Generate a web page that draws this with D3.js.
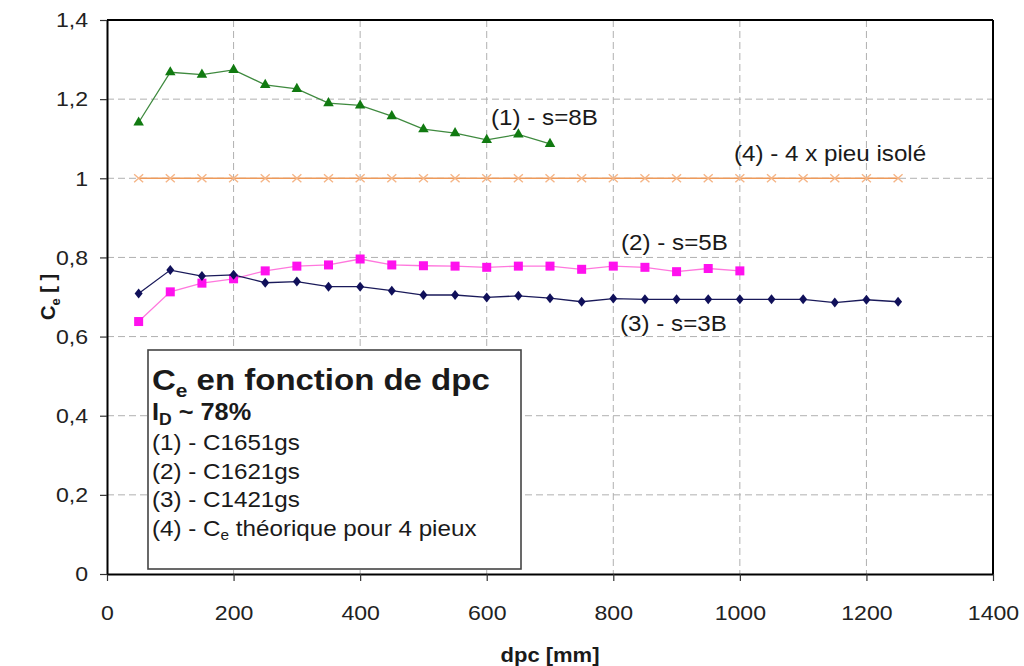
<!DOCTYPE html>
<html><head><meta charset="utf-8">
<script src="https://cdn.jsdelivr.net/npm/d3@7"></script>
<style>body{margin:0;background:#fff;}svg{font-family:"Liberation Sans",Arial,sans-serif;}</style>
</head><body><svg id="c" width="1024" height="666"></svg>
<script>
const xTicks = [0,200,400,600,800,1000,1200,1400];
const yTicks = [0,0.2,0.4,0.6,0.8,1,1.2,1.4];
const dpc1 = [50,100,150,200,250,300,350,400,450,500,550,600,650,700];
const ce1 = [1.141,1.268,1.262,1.274,1.236,1.226,1.19,1.184,1.157,1.124,1.114,1.097,1.111,1.087];
const dpc2 = [50,100,150,200,250,300,350,400,450,500,550,600,650,700,750,800,850,900,950,1000];
const ce2 = [0.638,0.713,0.735,0.746,0.766,0.778,0.781,0.796,0.781,0.779,0.778,0.775,0.778,0.778,0.770,0.778,0.775,0.764,0.772,0.766];
const dpc3 = [50,100,150,200,250,300,350,400,450,500,550,600,650,700,750,800,850,900,950,1000,1050,1100,1150,1200,1250];
const ce3 = [0.709,0.768,0.753,0.756,0.736,0.739,0.726,0.726,0.716,0.705,0.705,0.699,0.703,0.697,0.688,0.696,0.694,0.694,0.694,0.694,0.694,0.694,0.686,0.693,0.688];
const dpc4 = [50,100,150,200,250,300,350,400,450,500,550,600,650,700,750,800,850,900,950,1000,1050,1100,1150,1200,1250];
const ce4 = [1,1,1,1,1,1,1,1,1,1,1,1,1,1,1,1,1,1,1,1,1,1,1,1,1];
const seriesLabels = ["(1) - s=8B","(2) - s=5B","(3) - s=3B","(4) - 4 x pieu isolé"];
const legendLines = ["(1) - C1651gs","(2) - C1621gs","(3) - C1421gs"];

const SX = 1.1; // horizontal stretch of the reference's text
const svg = d3.select("#c");
const L=107, R=993, T=20, B=574;
const x = d3.scaleLinear().domain([0,1400]).range([L,R]);
const y = d3.scaleLinear().domain([0,1.4]).range([B,T]);
const fmt = d => String(d).replace(".", ",");
const txt = (px,py,size,weight) => svg.append("text")
  .attr("transform",`translate(${px},${py}) scale(${SX},1)`)
  .attr("font-size",size).attr("font-weight",weight||"normal").attr("fill","#1a1a1a");

// gridlines
svg.append("g").selectAll("line").data(yTicks.filter(d=>d>0 && d<1.4)).join("line")
  .attr("x1",L).attr("x2",R).attr("y1",d=>y(d)).attr("y2",d=>y(d))
  .attr("stroke","#b0b0b0").attr("stroke-width",1).attr("stroke-dasharray","7,4");
svg.append("g").selectAll("line").data(xTicks.filter(d=>d>0 && d<1400)).join("line")
  .attr("y1",T).attr("y2",B).attr("x1",d=>x(d)).attr("x2",d=>x(d))
  .attr("stroke","#b0b0b0").attr("stroke-width",1).attr("stroke-dasharray","7,4");

// axes
const xAxis = svg.append("g").attr("transform",`translate(0,${B})`)
  .call(d3.axisBottom(x).tickValues(xTicks).tickSize(7).tickSizeOuter(0).tickFormat(d=>d));
const yAxis = svg.append("g").attr("transform",`translate(${L},0)`)
  .call(d3.axisLeft(y).tickValues(yTicks).tickSize(7).tickSizeOuter(0).tickFormat(fmt));
[xAxis,yAxis].forEach(a=>{
  a.select(".domain").attr("stroke","#000").attr("stroke-width",2);
  a.selectAll(".tick line").attr("stroke","#333").attr("stroke-width",1.2);
  a.selectAll("text").attr("fill","#222").attr("font-size",21)
    .attr("font-family","Liberation Sans, Arial, sans-serif").attr("transform",`scale(${SX},1)`);
});
xAxis.selectAll("text").attr("y",0).attr("dy","2.2em");
yAxis.selectAll("text").attr("x",-19/SX);
// top & right border
svg.append("line").attr("x1",L).attr("x2",R).attr("y1",T).attr("y2",T).attr("stroke","#000").attr("stroke-width",2);
svg.append("line").attr("x1",R).attr("x2",R).attr("y1",T).attr("y2",B).attr("stroke","#000").attr("stroke-width",2);

const line = d3.line().x(d=>x(d[0])).y(d=>y(d[1]));
const zip = (a,b) => a.map((v,i)=>[v,b[i]]);

// series 4 orange
const s4 = zip(dpc4,ce4);
svg.append("path").datum(s4).attr("d",line).attr("fill","none").attr("stroke","#ee9a5a").attr("stroke-width",1.6);
svg.append("g").selectAll("path").data(s4).join("path")
  .attr("transform",d=>`translate(${x(d[0])},${y(d[1])})`)
  .attr("d","M-4.5,-4L4.5,4M-4.5,4L4.5,-4").attr("stroke","#f5b587").attr("stroke-width",1.4).attr("fill","none");

// series 1 green
const s1 = zip(dpc1,ce1);
svg.append("path").datum(s1).attr("d",line).attr("fill","none").attr("stroke","#3f8a3f").attr("stroke-width",1.3);
svg.append("g").selectAll("path").data(s1).join("path")
  .attr("transform",d=>`translate(${x(d[0])},${y(d[1])})`)
  .attr("d",d3.symbol(d3.symbolTriangle,48)).attr("fill","#117a11");

// series 2 pink
const s2 = zip(dpc2,ce2);
svg.append("path").datum(s2).attr("d",line).attr("fill","none").attr("stroke","#ff77dd").attr("stroke-width",1.3);
svg.append("g").selectAll("rect").data(s2).join("rect")
  .attr("x",d=>x(d[0])-4.5).attr("y",d=>y(d[1])-4.5).attr("width",9).attr("height",9).attr("fill","#ff11ee");

// series 3 navy
const s3 = zip(dpc3,ce3);
svg.append("path").datum(s3).attr("d",line).attr("fill","none").attr("stroke","#1a1a5a").attr("stroke-width",1.3);
svg.append("g").selectAll("path").data(s3).join("path")
  .attr("transform",d=>`translate(${x(d[0])},${y(d[1])})`)
  .attr("d","M0,-5L4,0L0,5L-4,0Z").attr("fill","#10105a");

// series labels
const labPos = [[491,125],[621,250],[620,331],[734,161]];
seriesLabels.forEach((s,i)=>txt(labPos[i][0],labPos[i][1],22).text(s));

// legend box
svg.append("rect").attr("x",148).attr("y",350).attr("width",373).attr("height",219)
  .attr("fill","#fff").attr("stroke","#444").attr("stroke-width",1.6);
const t1 = txt(152,390,30,"bold");
t1.append("tspan").text("C");
t1.append("tspan").attr("font-size",19).attr("dy",7).text("e");
t1.append("tspan").attr("dy",-7).text(" en fonction de dpc");
const t2 = txt(152,420,23,"bold");
t2.append("tspan").text("I");
t2.append("tspan").attr("font-size",16).attr("dy",5).text("D");
t2.append("tspan").attr("dy",-5).text(" ~ 78%");
legendLines.forEach((s,i)=>txt(152,450+i*28.5,22).text(s));
const t3 = txt(152,535.5,22);
t3.append("tspan").text("(4) - C");
t3.append("tspan").attr("font-size",14).attr("dy",4).text("e");
t3.append("tspan").attr("dy",-4).text(" théorique pour 4 pieux");

// axis titles
txt(550,662,20,"bold").attr("text-anchor","middle").text("dpc [mm]");
const yt = svg.append("text").attr("transform","translate(55,297) rotate(-90)").attr("text-anchor","middle")
  .attr("font-size",20).attr("font-weight","bold").attr("fill","#1a1a1a");
yt.append("tspan").text("C");
yt.append("tspan").attr("font-size",13).attr("dy",5).text("e");
yt.append("tspan").attr("dy",-5).text(" [ ]");
</script></body></html>
